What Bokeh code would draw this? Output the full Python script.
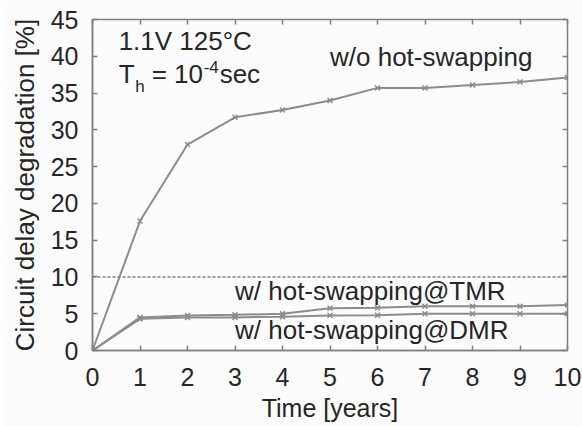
from bokeh.plotting import figure
from bokeh.models import Range1d, LinearAxis, Span, Label, FixedTicker, CustomJSTickFormatter
from bokeh.embed import file_html
from bokeh.resources import INLINE

years = [0, 1, 2, 3, 4, 5, 6, 7, 8, 9, 10]
wo_hot_swapping = [0, 17.6, 28.0, 31.7, 32.7, 34.0, 35.7, 35.7, 36.1, 36.5, 37.1]
hot_swapping_tmr = [0, 4.5, 4.75, 4.85, 5.0, 5.75, 5.8, 6.0, 6.0, 6.0, 6.2]
hot_swapping_dmr = [0, 4.3, 4.5, 4.5, 4.6, 4.75, 4.8, 5.0, 5.0, 5.0, 5.0]
threshold = 10
x_ticks = list(range(0, 11))
y_ticks = list(range(0, 50, 5))

FONT = "Liberation Sans"
TXT = "#262626"
LINE = "#8c8c8c"
AX = "#808080"
FS = "25px"
AFS = "26px"

p = figure(width=582, height=426, output_backend="svg", toolbar_location=None,
           x_range=Range1d(0, 10), y_range=Range1d(0, 45),
           min_border_left=92, min_border_right=15, min_border_top=19, min_border_bottom=76,
           background_fill_color="#fcfcfc", border_fill_color="#fcfcfc")
p.grid.visible = False
p.outline_line_color = AX
p.outline_line_width = 1.5

for ax, ticks in ((p.xaxis[0], x_ticks), (p.yaxis[0], y_ticks)):
    ax.ticker = FixedTicker(ticks=ticks)
    ax.major_tick_in = 5
    ax.major_tick_out = 0
    ax.minor_tick_line_color = None
    ax.axis_line_color = AX
    ax.axis_line_width = 1.5
    ax.major_tick_line_color = AX
    ax.major_tick_line_width = 1.5
    ax.major_label_text_font = FONT
    ax.major_label_text_font_size = FS
    ax.major_label_text_color = TXT
    ax.axis_label_text_font = FONT
    ax.axis_label_text_font_style = "normal"
    ax.axis_label_text_color = TXT

p.xaxis.axis_label = "Time [years]"
p.xaxis.axis_label_text_font_size = FS
p.xaxis.major_label_standoff = 17
p.xaxis.axis_label_standoff = 5
p.yaxis.axis_label = "Circuit delay degradation [%]"
p.yaxis.axis_label_text_font_size = "26px"
p.yaxis.major_label_standoff = 14
p.yaxis.axis_label_standoff = 8

blank = CustomJSTickFormatter(code="return ''")
top = LinearAxis(ticker=FixedTicker(ticks=x_ticks), formatter=blank, major_tick_in=5, major_tick_out=0,
                 minor_tick_line_color=None, axis_line_color=AX, major_tick_line_color=AX,
                 major_tick_line_width=1.5, major_label_standoff=0)
right = LinearAxis(ticker=FixedTicker(ticks=y_ticks), formatter=blank, major_tick_in=5, major_tick_out=0,
                   minor_tick_line_color=None, axis_line_color=AX, major_tick_line_color=AX,
                   major_tick_line_width=1.5, major_label_standoff=0)
p.add_layout(top, "above")
p.add_layout(right, "right")

p.add_layout(Span(location=threshold, dimension="width", line_color=AX, line_width=1.5, line_dash="3 2"))

for ys in (hot_swapping_dmr, hot_swapping_tmr, wo_hot_swapping):
    p.line(years, ys, line_color=LINE, line_width=2)
    p.scatter(years, ys, marker="x", size=7, line_color=LINE, line_width=1.5)

UP = 9

def lab(x, y, t, size=AFS, xo=0, yo=0):
    p.add_layout(Label(x=x, y=y, text=t, x_offset=xo, y_offset=yo + UP, text_font=FONT,
                       text_font_size=size, text_color=TXT, text_baseline="alphabetic"))

lab(0.55, 40.8, "1.1V 125\u00b0C")
lab(0.55, 36.3, "T")
lab(0.55, 36.3, "h", size="17px", xo=16.5, yo=-12)
lab(0.55, 36.3, "= 10", xo=33)
lab(0.55, 36.3, "-4", size="17px", xo=85, yo=7)
lab(0.55, 36.3, "sec", xo=101)
lab(5.0, 38.7, "w/o hot-swapping")
lab(3.0, 6.8, "w/ hot-swapping@TMR")
lab(3.0, 1.63, "w/ hot-swapping@DMR")

open("out.html", "w").write(file_html(p, INLINE))
